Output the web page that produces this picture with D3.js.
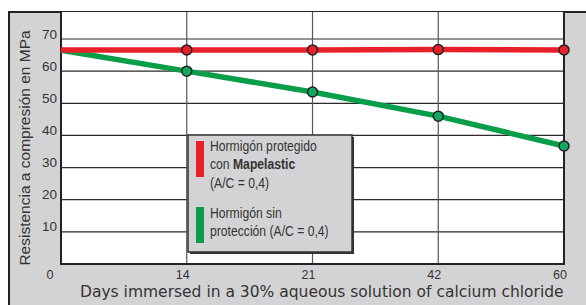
<!DOCTYPE html>
<meta charset="utf-8">
<style>
body { margin: 0; background: #fff; }
svg { display: block; }
text { fill: #333; }
</style>
<svg width="586" height="305" id="chart"></svg>
<script src="https://d3js.org/d3.v7.min.js"></script>
<script>
// data
var days = ["0", "14", "21", "42", "60"];
var protegido = [66.6, 66.6, 66.6, 66.7, 66.6];
var sinProteccion = [66.5, 60.0, 53.5, 46.0, 36.7];
var yTicks = [10, 20, 30, 40, 50, 60, 70];
var legendItems = ["protegido", "sin"];

var svg = d3.select("#chart");

// plot box (don't call it "top", window.top is taken)
var plotL = 61, plotR = 564, plotT = 12, plotB = 264;

var x = d3.scalePoint().domain(days).range([plotL, plotR]);
var y = d3.scaleLinear().domain([0, 78.4]).range([plotB, plotT]);

// grey panel behind
svg.append("rect")
  .attr("x", 9).attr("y", 12).attr("width", 586 - 9).attr("height", 305 - 12)
  .attr("fill", "#d3d3d5");
svg.append("path")
  .attr("d", "M9,305V12H586")
  .attr("fill", "none").attr("stroke", "#222").attr("stroke-width", 2);

// plot area
svg.append("rect")
  .attr("x", plotL).attr("y", plotT).attr("width", plotR - plotL).attr("height", plotB - plotT)
  .attr("fill", "#fff");

// horizontal grid
svg.append("g").selectAll("line")
  .data(yTicks)
  .enter().append("line")
    .attr("x1", plotL).attr("x2", plotR)
    .attr("y1", function(d) { return y(d); })
    .attr("y2", function(d) { return y(d); })
    .attr("stroke", "#2b2b2b").attr("stroke-width", 1.2);

// vertical grid
svg.append("g").selectAll("line")
  .data(days.slice(1, 4))
  .enter().append("line")
    .attr("x1", function(d) { return x(d); })
    .attr("x2", function(d) { return x(d); })
    .attr("y1", plotT).attr("y2", plotB)
    .attr("stroke", "#555").attr("stroke-width", 1.2);

// plot frame
svg.append("path")
  .attr("d", "M" + plotL + "," + plotT + "V" + plotB + "H" + plotR + "V" + plotT)
  .attr("fill", "none").attr("stroke", "#222").attr("stroke-width", 2);

// y tick labels
svg.append("g").selectAll("text")
  .data(yTicks)
  .enter().append("text")
    .attr("x", 57)
    .attr("y", function(d) { return y(d) - 0.5; })
    .attr("text-anchor", "end")
    .style("font-family", "Liberation Sans, Arial, sans-serif")
    .style("font-size", "13.5px")
    .text(function(d) { return d; });

// x tick labels
svg.append("g").selectAll("text")
  .data(days)
  .enter().append("text")
    .attr("x", function(d, i) { return i == 0 ? 50 : x(d) + 3; })
    .attr("y", 279)
    .attr("text-anchor", function(d, i) { return i == 0 ? "middle" : "end"; })
    .style("font-family", "Liberation Sans, Arial, sans-serif")
    .style("font-size", "12.5px")
    .text(function(d) { return d; });

// axis titles - squeeze the x title to span 80..564 like the original
var xTitle = svg.append("text")
  .attr("x", 0).attr("y", 0)
  .style("font-family", "DejaVu Sans, sans-serif")
  .style("font-size", "16.5px")
  .text("Days immersed in a 30% aqueous solution of calcium chloride");
var sx = 484 / xTitle.node().getComputedTextLength();
xTitle.attr("transform", "translate(80,297) scale(" + sx + ",1)");

svg.append("text")
  .attr("transform", "translate(30,148) rotate(-90)")
  .attr("text-anchor", "middle")
  .style("font-family", "Liberation Sans, Arial, sans-serif")
  .style("font-size", "15.5px")
  .text("Resistencia a compresión en MPa");

// lines
var line = d3.line()
  .x(function(d, i) { return x(days[i]); })
  .y(function(d) { return y(d); });

var series = [
  {values: sinProteccion, color: "#0a9e4a", dot: "#12a860"},
  {values: protegido, color: "#e8202a", dot: "#e8202a"}
];

series.forEach(function(s) {
  svg.append("path")
    .datum(s.values)
    .attr("d", line)
    .attr("fill", "none")
    .attr("stroke", s.color)
    .attr("stroke-width", 5.5);
});

series.forEach(function(s) {
  svg.append("g").selectAll("circle")
    .data(s.values.slice(1))
    .enter().append("circle")
      .attr("cx", function(d, i) { return x(days[i + 1]); })
      .attr("cy", function(d) { return y(d); })
      .attr("r", 5)
      .attr("fill", s.dot)
      .attr("stroke", "#222")
      .attr("stroke-width", 1.5);
});

// legend
var lg = svg.append("g");
lg.append("rect")
  .attr("x", 190).attr("y", 137).attr("width", 164).attr("height", 117)
  .attr("fill", "#333");
lg.append("rect")
  .attr("x", 188).attr("y", 135).attr("width", 164).attr("height", 117)
  .attr("fill", "#d3d3d5").attr("stroke", "#333").attr("stroke-width", 1.5);

var legendColors = {protegido: "#e8202a", sin: "#0a9e4a"};
var legendY = {protegido: 141, sin: 207};

lg.selectAll(".swatch")
  .data(legendItems)
  .enter().append("rect")
    .attr("class", "swatch")
    .attr("x", 196)
    .attr("y", function(d) { return legendY[d]; })
    .attr("width", 8).attr("height", 36)
    .attr("fill", function(d) { return legendColors[d]; });

function legendText(yy, parts) {
  var t = lg.append("text")
    .attr("x", 210).attr("y", yy)
    .style("font-family", "Liberation Sans, Arial, sans-serif")
    .style("font-size", "14.5px")
    .attr("transform", "translate(210,0) scale(0.84,1) translate(-210,0)");
  parts.forEach(function(p) {
    t.append("tspan").style("font-weight", p[1] ? "bold" : "normal").text(p[0]);
  });
}

legendText(151, [["Hormigón protegido", false]]);
legendText(169, [["con ", false], ["Mapelastic", true]]);
legendText(188, [["(A/C = 0,4)", false]]);
legendText(218, [["Hormigón sin", false]]);
legendText(236, [["protección (A/C = 0,4)", false]]);
</script>
